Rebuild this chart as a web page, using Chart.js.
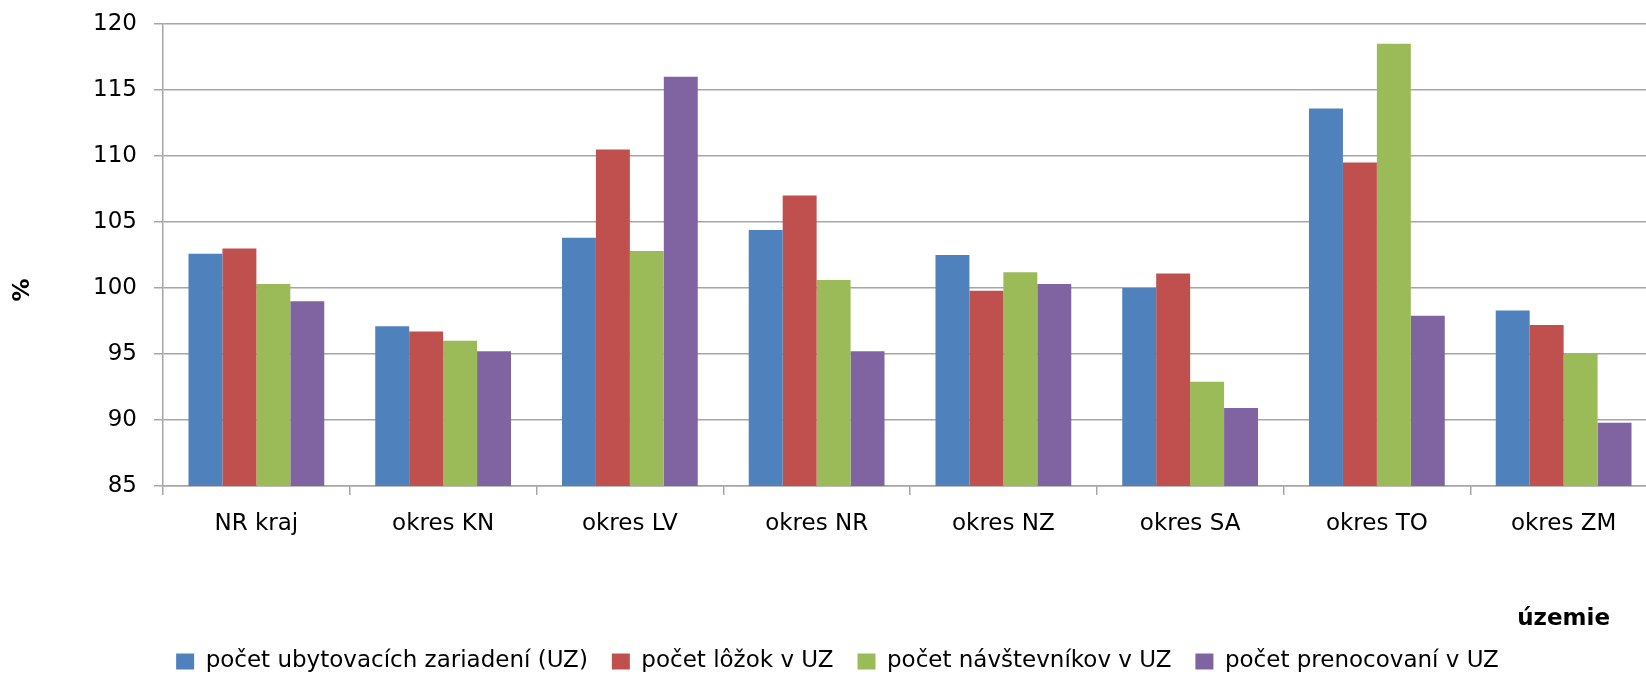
<!DOCTYPE html>
<html>
<head>
<meta charset="utf-8">
<script src="https://cdn.jsdelivr.net/npm/chart.js@4"></script>
<style>
  html, body { margin: 0; padding: 0; background: #fff; overflow: hidden; }
  #wrap { position: relative; width: 1662px; height: 675px; }
</style>
</head>
<body>
<div id="wrap"><canvas id="myChart"></canvas></div>
<script>
// územia a hodnoty (%) odčítané z grafu
const categories = ['NR kraj', 'okres KN', 'okres LV', 'okres NR', 'okres NZ', 'okres SA', 'okres TO', 'okres ZM'];
const seriesNames = ['počet ubytovacích zariadení (UZ)', 'počet lôžok v UZ', 'počet návštevníkov v UZ', 'počet prenocovaní v UZ'];
const zariadenia = [102.6, 97.1, 103.8, 104.4, 102.5, 100.0, 113.6, 98.3];
const lozka = [103.0, 96.7, 110.5, 107.0, 99.8, 101.1, 109.5, 97.2];
const navstevnici = [100.3, 96.0, 102.8, 100.6, 101.2, 92.9, 118.5, 95.0];
const prenocovania = [99.0, 95.2, 116.0, 95.2, 100.3, 90.9, 97.9, 89.8];
const yTicks = { min: 85, max: 120, step: 5 };
const xTitle = 'územie';
const yTitle = '%';

const fontFamily = '"DejaVu Sans", Verdana, sans-serif';
const fontSize = 23;
const gridColor = '#a6a6a6';

Chart.defaults.font.family = fontFamily;
Chart.defaults.font.size = fontSize;
Chart.defaults.color = '#000';

// axis titles drawn by hand, Excel puts them in odd places
const axisTitles = {
  id: 'axisTitles',
  afterDraw(chart) {
    const ctx = chart.ctx;
    const area = chart.chartArea;
    ctx.save();
    ctx.fillStyle = '#000';
    ctx.font = 'bold ' + fontSize + 'px ' + fontFamily;
    ctx.textAlign = 'right';
    ctx.textBaseline = 'alphabetic';
    ctx.fillText(xTitle, area.right - 47, 625);
    ctx.translate(23, (area.top + area.bottom) / 2 + 35);
    ctx.rotate(-Math.PI / 2);
    ctx.textAlign = 'center';
    ctx.textBaseline = 'middle';
    ctx.fillText(yTitle, 0, 0);
    ctx.restore();
  }
};

function createChart() {
  const ctx = document.getElementById('myChart');
  new Chart(ctx, {
    type: 'bar',
    data: {
      labels: categories,
      datasets: [
        { label: seriesNames[0], data: zariadenia, backgroundColor: '#4F81BD' },
        { label: seriesNames[1], data: lozka, backgroundColor: '#C0504D' },
        { label: seriesNames[2], data: navstevnici, backgroundColor: '#9BBB59' },
        { label: seriesNames[3], data: prenocovania, backgroundColor: '#8064A2' }
      ]
    },
    options: {
      responsive: true,
      maintainAspectRatio: false,
      animation: false,
      datasets: {
        bar: { categoryPercentage: 0.727, barPercentage: 1.0, borderWidth: 0 }
      },
      layout: {
        padding: { top: 24, left: 18, right: 5, bottom: -8 }
      },
      plugins: {
        tooltip: { enabled: false },
        legend: {
          display: true,
          position: 'bottom',
          labels: {
            boxWidth: 18,
            boxHeight: 16,
            padding: 24,
            color: '#000',
            font: { size: fontSize }
          }
        }
      },
      scales: {
        x: {
          afterFit: (scale) => { scale.height = 140; },
          grid: {
            display: true,
            drawOnChartArea: false,
            drawTicks: true,
            tickLength: 9,
            color: gridColor,
            lineWidth: 1.5
          },
          border: { color: gridColor, width: 1.5 },
          ticks: { padding: 15, maxRotation: 0, autoSkip: false, color: '#000' }
        },
        y: {
          min: yTicks.min,
          max: yTicks.max,
          afterFit: (scale) => {
            scale.width = 145;
            // keep the tick padding from pushing the plot down
            scale.paddingTop = 0;
            scale.paddingBottom = 0;
          },
          grid: {
            color: gridColor,
            lineWidth: 1.5,
            drawTicks: true,
            tickLength: 9
          },
          border: { color: gridColor, width: 1.5 },
          ticks: { stepSize: yTicks.step, padding: 17, color: '#000' }
        }
      }
    },
    plugins: [axisTitles]
  });
}

createChart();
</script>
</body>
</html>
